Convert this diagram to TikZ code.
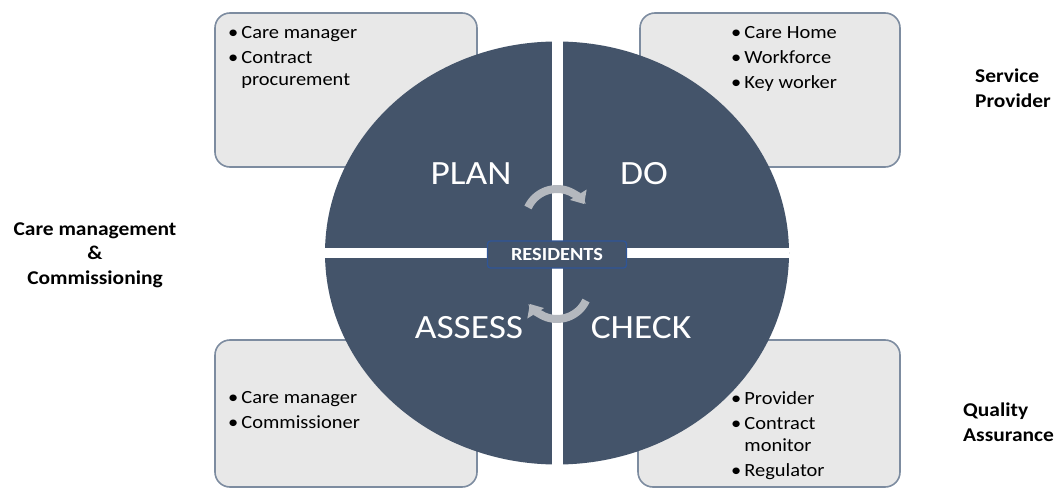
\documentclass[tikz,border=0pt]{standalone}
\usepackage{fontspec}
\setmainfont{Carlito}[FakeStretch=1.1]
\usetikzlibrary{shapes.geometric,arrows.meta}
\definecolor{slate}{HTML}{44546A}
\definecolor{panelfill}{HTML}{E8E8E8}
\definecolor{paneledge}{HTML}{7D8CA0}
\definecolor{hubedge}{HTML}{2F5597}
\definecolor{cyclegray}{HTML}{B4B8BE}
\begin{document}
\begin{tikzpicture}[x=1pt,y=-1pt,
  panel/.style={draw=paneledge, line width=1.6pt, fill=panelfill, rounded corners=15pt, inner sep=0pt},
  listtext/.style={anchor=north west, inner sep=0pt, font=\fontsize{18.6}{25}\selectfont},
  sidelabel/.style={inner sep=0pt, font=\bfseries\fontsize{19.5}{24.5}\selectfont},
  phase/.style={text=white, inner sep=0pt, font=\fontsize{34}{40}\selectfont},
  cyclearrow/.style={cyclegray, line width=8pt, -{Triangle[width=19pt,length=11pt]}}
]
\useasboundingbox (0,0) rectangle (1059,489);

% corner panels
\node[panel, minimum width=262pt, minimum height=154pt] (pTL) at (346,90) {};
\node[panel, minimum width=260pt, minimum height=154pt] (pTR) at (770,90) {};
\node[panel, minimum width=262pt, minimum height=147pt] (pBL) at (346,413.5) {};
\node[panel, minimum width=262pt, minimum height=147pt] (pBR) at (769,413.5) {};

% panel contents
\node[listtext] (lTL) at (228,21) {\begin{tabular}{@{}l@{\hspace{3pt}}l@{}}•&Care manager\\•&Contract\\[-3pt]&procurement\end{tabular}};
\node[listtext] (lTR) at (731,21) {\begin{tabular}{@{}l@{\hspace{3pt}}l@{}}•&Care Home\\•&Workforce\\•&Key worker\end{tabular}};
\node[listtext] (lBL) at (228,386) {\begin{tabular}{@{}l@{\hspace{3pt}}l@{}}•&Care manager\\•&Commissioner\end{tabular}};
\node[listtext] (lBR) at (731,387) {\begin{tabular}{@{}l@{\hspace{3pt}}l@{}}•&Provider\\•&Contract\\[-3pt]&monitor\\•&Regulator\end{tabular}};

% central cycle
\node[ellipse, fill=slate, minimum width=464pt, minimum height=423pt, inner sep=0pt] (disc) at (557,253) {};
\draw[white, line width=11pt] (disc.north) -- (disc.south);
\draw[white, line width=10pt] (disc.west) -- (disc.east);

\node[phase] (plan) at (471,174) {PLAN};
\node[phase] (do) at (644,174) {DO};
\node[phase] (assess) at (469,328) {ASSESS};
\node[phase] (check) at (641,328) {CHECK};

\draw[cyclearrow] (557,221) ++(-155:32) arc[start angle=-155, end angle=-32, radius=32];
\draw[cyclearrow] (557,287) ++(25:32) arc[start angle=25, end angle=148, radius=32];

\node[fill=slate, draw=hubedge, line width=1.3pt, rounded corners=3pt, minimum width=139pt, minimum height=27pt, inner sep=0pt,
      text=white, font=\bfseries\fontsize{18.5}{20}\selectfont] (hub) at (557,254.5) {RESIDENTS};

% role labels
\node[sidelabel, anchor=west, align=left] (svc) at (975,88) {Service\\Provider};
\node[sidelabel, anchor=west, align=left] (qa) at (963,422) {Quality\\Assurance};
\node[sidelabel, align=center] (cm) at (95,255) {Care management\\\&\\Commissioning};
\end{tikzpicture}
\end{document}
